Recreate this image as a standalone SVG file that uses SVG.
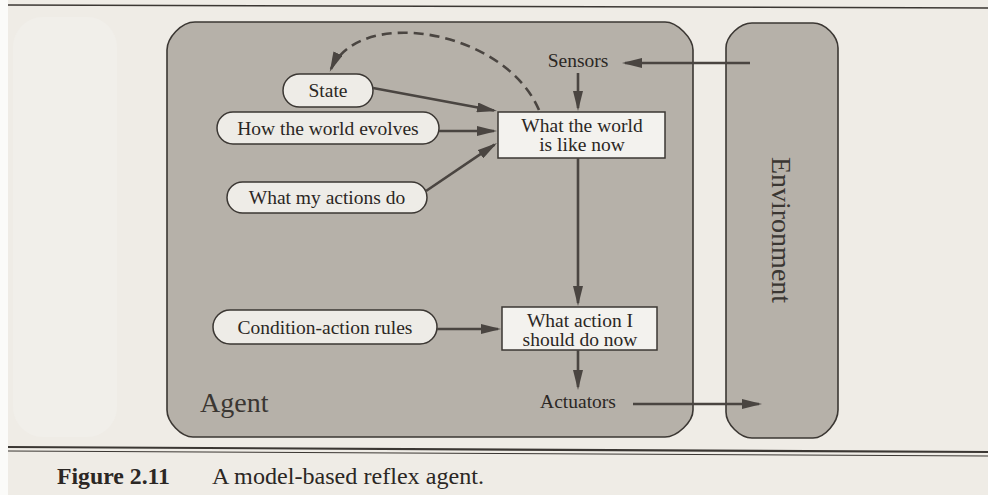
<svg xmlns="http://www.w3.org/2000/svg" width="988" height="495" viewBox="0 0 988 495">
  <defs>
    <marker id="arrow" markerUnits="userSpaceOnUse" markerWidth="20" markerHeight="10" refX="17" refY="5" orient="auto">
      <path d="M0,0 L20,5 L0,10 Z" fill="#4a4541"/>
    </marker>
    <style>
      .frame { fill: #b6b1a9; stroke: #3b3733; stroke-width: 1.6; }
      .pill { fill: #eeece7; stroke: #3b3733; stroke-width: 1.5; }
      .box { fill: #f3f2ee; stroke: #3b3733; stroke-width: 1.5; }
      .lbl { font-family: "Liberation Serif", "Times New Roman", serif; font-size: 19.5px; fill: #2b2724; text-anchor: middle; }
      .big { font-family: "Liberation Serif", "Times New Roman", serif; font-size: 28px; fill: #3a3632; }
      .cap { font-family: "Liberation Serif", "Times New Roman", serif; font-size: 23px; fill: #2b2724; }
      .link { fill: none; stroke: #4a4541; stroke-width: 2.6; marker-end: url(#arrow); }
      .dash { stroke-dasharray: 10 6; }
      .rule { stroke: #3b3733; fill: none; }
    </style>
  </defs>

  <!-- page -->
  <rect x="0" y="0" width="988" height="495" fill="#efece6"/>
  <rect x="0" y="0" width="8" height="495" fill="#fbfbf9"/>

  <!-- faint shapes showing through from the reverse side -->
  <rect x="13" y="17" width="104" height="420" rx="30" fill="#f1efea"/>

  <!-- page rules -->
  <line class="rule" x1="8" y1="5" x2="988" y2="8" stroke-width="1.6"/>
  <line class="rule" x1="8" y1="447" x2="988" y2="452" stroke-width="2.2"/>
  <line class="rule" x1="8" y1="451" x2="988" y2="456" stroke-width="1"/>

  <!-- agent boundary -->
  <g id="agent">
    <path class="frame" d="M195 22 H665 C677 22 693 38 693 50 V410 C693 422 677 437 665 437 H193 C181 437 167 422 167 410 V50 C167 38 181 22 195 22 Z"/>
    <text class="big" x="200" y="412">Agent</text>
  </g>

  <!-- environment -->
  <g id="environment">
    <path class="frame" d="M752 23 H813 C825 23 838 36 838 48 V410 C838 422 825 438 813 438 H752 C740 438 726 424 726 412 V48 C726 36 740 23 752 23 Z"/>
    <text class="big" transform="translate(772,230) rotate(90)" text-anchor="middle">Environment</text>
  </g>

  <g id="sensors">
    <text class="lbl" x="578" y="67">Sensors</text>
  </g>

  <g id="actuators">
    <text class="lbl" x="578" y="408">Actuators</text>
  </g>

  <g id="state">
    <rect class="pill" x="283" y="74" width="90" height="33" rx="16.5"/>
    <text class="lbl" x="328" y="97">State</text>
  </g>

  <g id="world-evolves">
    <rect class="pill" x="217" y="112" width="222" height="32" rx="16"/>
    <text class="lbl" x="328" y="135">How the world evolves</text>
  </g>

  <g id="actions-do">
    <rect class="pill" x="227" y="182" width="200" height="31" rx="15.5"/>
    <text class="lbl" x="327" y="204">What my actions do</text>
  </g>

  <g id="rules">
    <rect class="pill" x="213" y="310" width="224" height="34" rx="17"/>
    <text class="lbl" x="325" y="334">Condition-action rules</text>
  </g>

  <g id="world-now">
    <rect class="box" x="498" y="112" width="167" height="46"/>
    <text class="lbl" x="582" y="132">What the world</text>
    <text class="lbl" x="582" y="151">is like now</text>
  </g>

  <g id="action-now">
    <rect class="box" x="502" y="307" width="155" height="43"/>
    <text class="lbl" x="580" y="327">What action I</text>
    <text class="lbl" x="580" y="346">should do now</text>
  </g>

  <!-- connectors -->
  <g id="connectors">
    <path class="link" d="M750 63 L625 63"/>
    <path class="link" d="M578 73 L578 108"/>
    <path class="link" d="M373 88 L494 110.5"/>
    <path class="link" d="M439 131 L494 131"/>
    <path class="link" d="M426 191 L494.5 144.7"/>
    <path class="link" d="M578 158 L578 303"/>
    <path class="link" d="M437 329 L498 329"/>
    <path class="link" d="M578 350 L578 387"/>
    <path class="link" d="M633 404 L759 404"/>
    <path class="link dash" d="M539 110 C505 30 360 5 331 69"/>
  </g>

  <!-- caption -->
  <text class="cap" x="57" y="484" font-weight="bold" textLength="113" lengthAdjust="spacingAndGlyphs">Figure 2.11</text>
  <text class="cap" x="212" y="484" textLength="272" lengthAdjust="spacingAndGlyphs">A model-based reflex agent.</text>
</svg>
